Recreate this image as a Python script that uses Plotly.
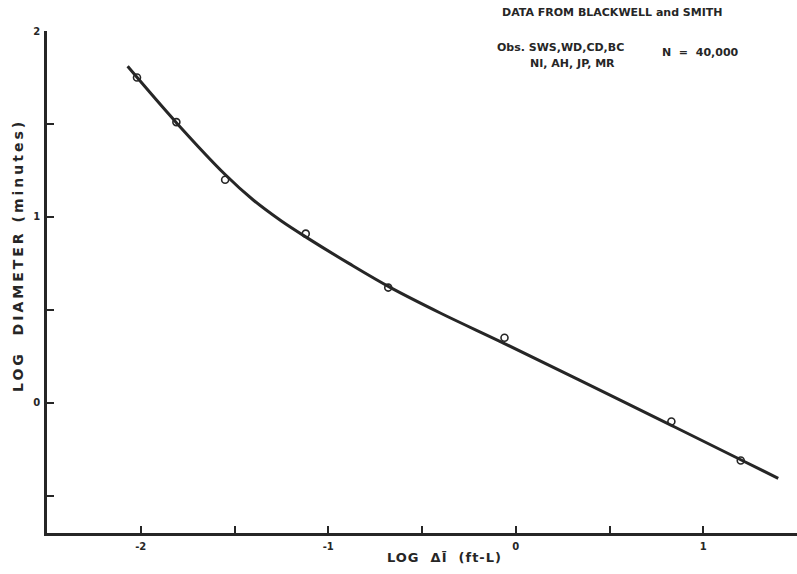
import plotly.graph_objects as go

# Observed data points (log delta I, log diameter)
obs_log_dI = [-2.02, -1.81, -1.55, -1.12, -0.68, -0.06, 0.83, 1.20]
obs_log_diam = [1.75, 1.51, 1.20, 0.91, 0.62, 0.35, -0.10, -0.31]

# Fitted smooth curve
curve_log_dI = [-2.07, -1.81, -1.55, -1.40, -1.25, -1.11, -0.89, -0.67,
                -0.40, -0.06, 0.34, 0.83, 1.20, 1.40]
curve_log_diam = [1.810, 1.507, 1.228, 1.091, 0.978, 0.886, 0.750, 0.621,
                  0.482, 0.319, 0.122, -0.121, -0.306, -0.406]

x_tick_vals = [-2.5, -2, -1.5, -1, -0.5, 0, 0.5, 1, 1.5]
x_tick_text = ["", "-2", "", "-1", "", "0", "", "1", ""]
y_tick_vals = [-0.5, 0, 0.5, 1, 1.5, 2]
y_tick_text = ["", "0", "", "1", "", "2"]

INK = "#262626"
FONT = "DejaVu Sans"

fig = go.Figure()
fig.add_trace(go.Scatter(
    x=curve_log_dI, y=curve_log_diam, mode="lines",
    line=dict(color=INK, width=3, shape="spline", smoothing=1.0),
    hoverinfo="skip", showlegend=False,
))
fig.add_trace(go.Scatter(
    x=obs_log_dI, y=obs_log_diam, mode="markers",
    marker=dict(symbol="circle-open", size=7, color=INK, line=dict(width=1.6, color=INK)),
    showlegend=False,
))

fig.update_layout(
    width=797, height=574,
    margin=dict(l=47, r=0, t=31, b=41),
    paper_bgcolor="white", plot_bgcolor="white",
    font=dict(family=FONT, color=INK, size=10),
    xaxis=dict(
        range=[-2.5, 1.5], showgrid=False, zeroline=False,
        showline=True, linecolor=INK, linewidth=2.5,
        ticks="inside", ticklen=7, tickwidth=2, tickcolor=INK,
        tickvals=x_tick_vals, ticktext=x_tick_text,
        tickfont=dict(family=FONT, size=10, color=INK, weight="bold"),
        ticklabelstandoff=2,
    ),
    yaxis=dict(
        range=[-0.7, 2.0], showgrid=False, zeroline=False,
        showline=True, linecolor=INK, linewidth=2.5,
        ticks="inside", ticklen=7, tickwidth=2, tickcolor=INK,
        tickvals=y_tick_vals, ticktext=y_tick_text,
        tickfont=dict(family=FONT, size=10, color=INK, weight="bold"),
        ticklabelstandoff=2,
    ),
)

annos = [
    dict(text="DATA FROM BLACKWELL and SMITH", x=(612 - 47) / 750, y=(533 - 12) / 502, size=11),
    dict(text="Obs. SWS,WD,CD,BC", x=(560 - 47) / 750, y=(533 - 48) / 502, size=11),
    dict(text="NI, AH, JP, MR", x=(572 - 47) / 750, y=(533 - 63) / 502, size=11),
    dict(text="N  =  40,000", x=(700 - 47) / 750, y=(533 - 53) / 502, size=11),
    dict(text='<span style="letter-spacing:1px">LOG  ΔĪ  (ft-L)</span>',
         x=(444 - 47) / 750, y=(533 - 557) / 502, size=13),
]
for a in annos:
    fig.add_annotation(
        text=a["text"], x=a["x"], y=a["y"], xref="paper", yref="paper",
        showarrow=False, xanchor="center", yanchor="middle",
        font=dict(family=FONT, size=a["size"], color=INK, weight="bold"),
    )
fig.add_annotation(
    text='<span style="letter-spacing:3px">LOG  DIAMETER (minutes)</span>',
    x=(18 - 47) / 750, y=(533 - 256) / 502,
    xref="paper", yref="paper", showarrow=False, textangle=-90,
    xanchor="center", yanchor="middle",
    font=dict(family=FONT, size=14, color=INK, weight="bold"),
)

fig.write_html("out.html")
